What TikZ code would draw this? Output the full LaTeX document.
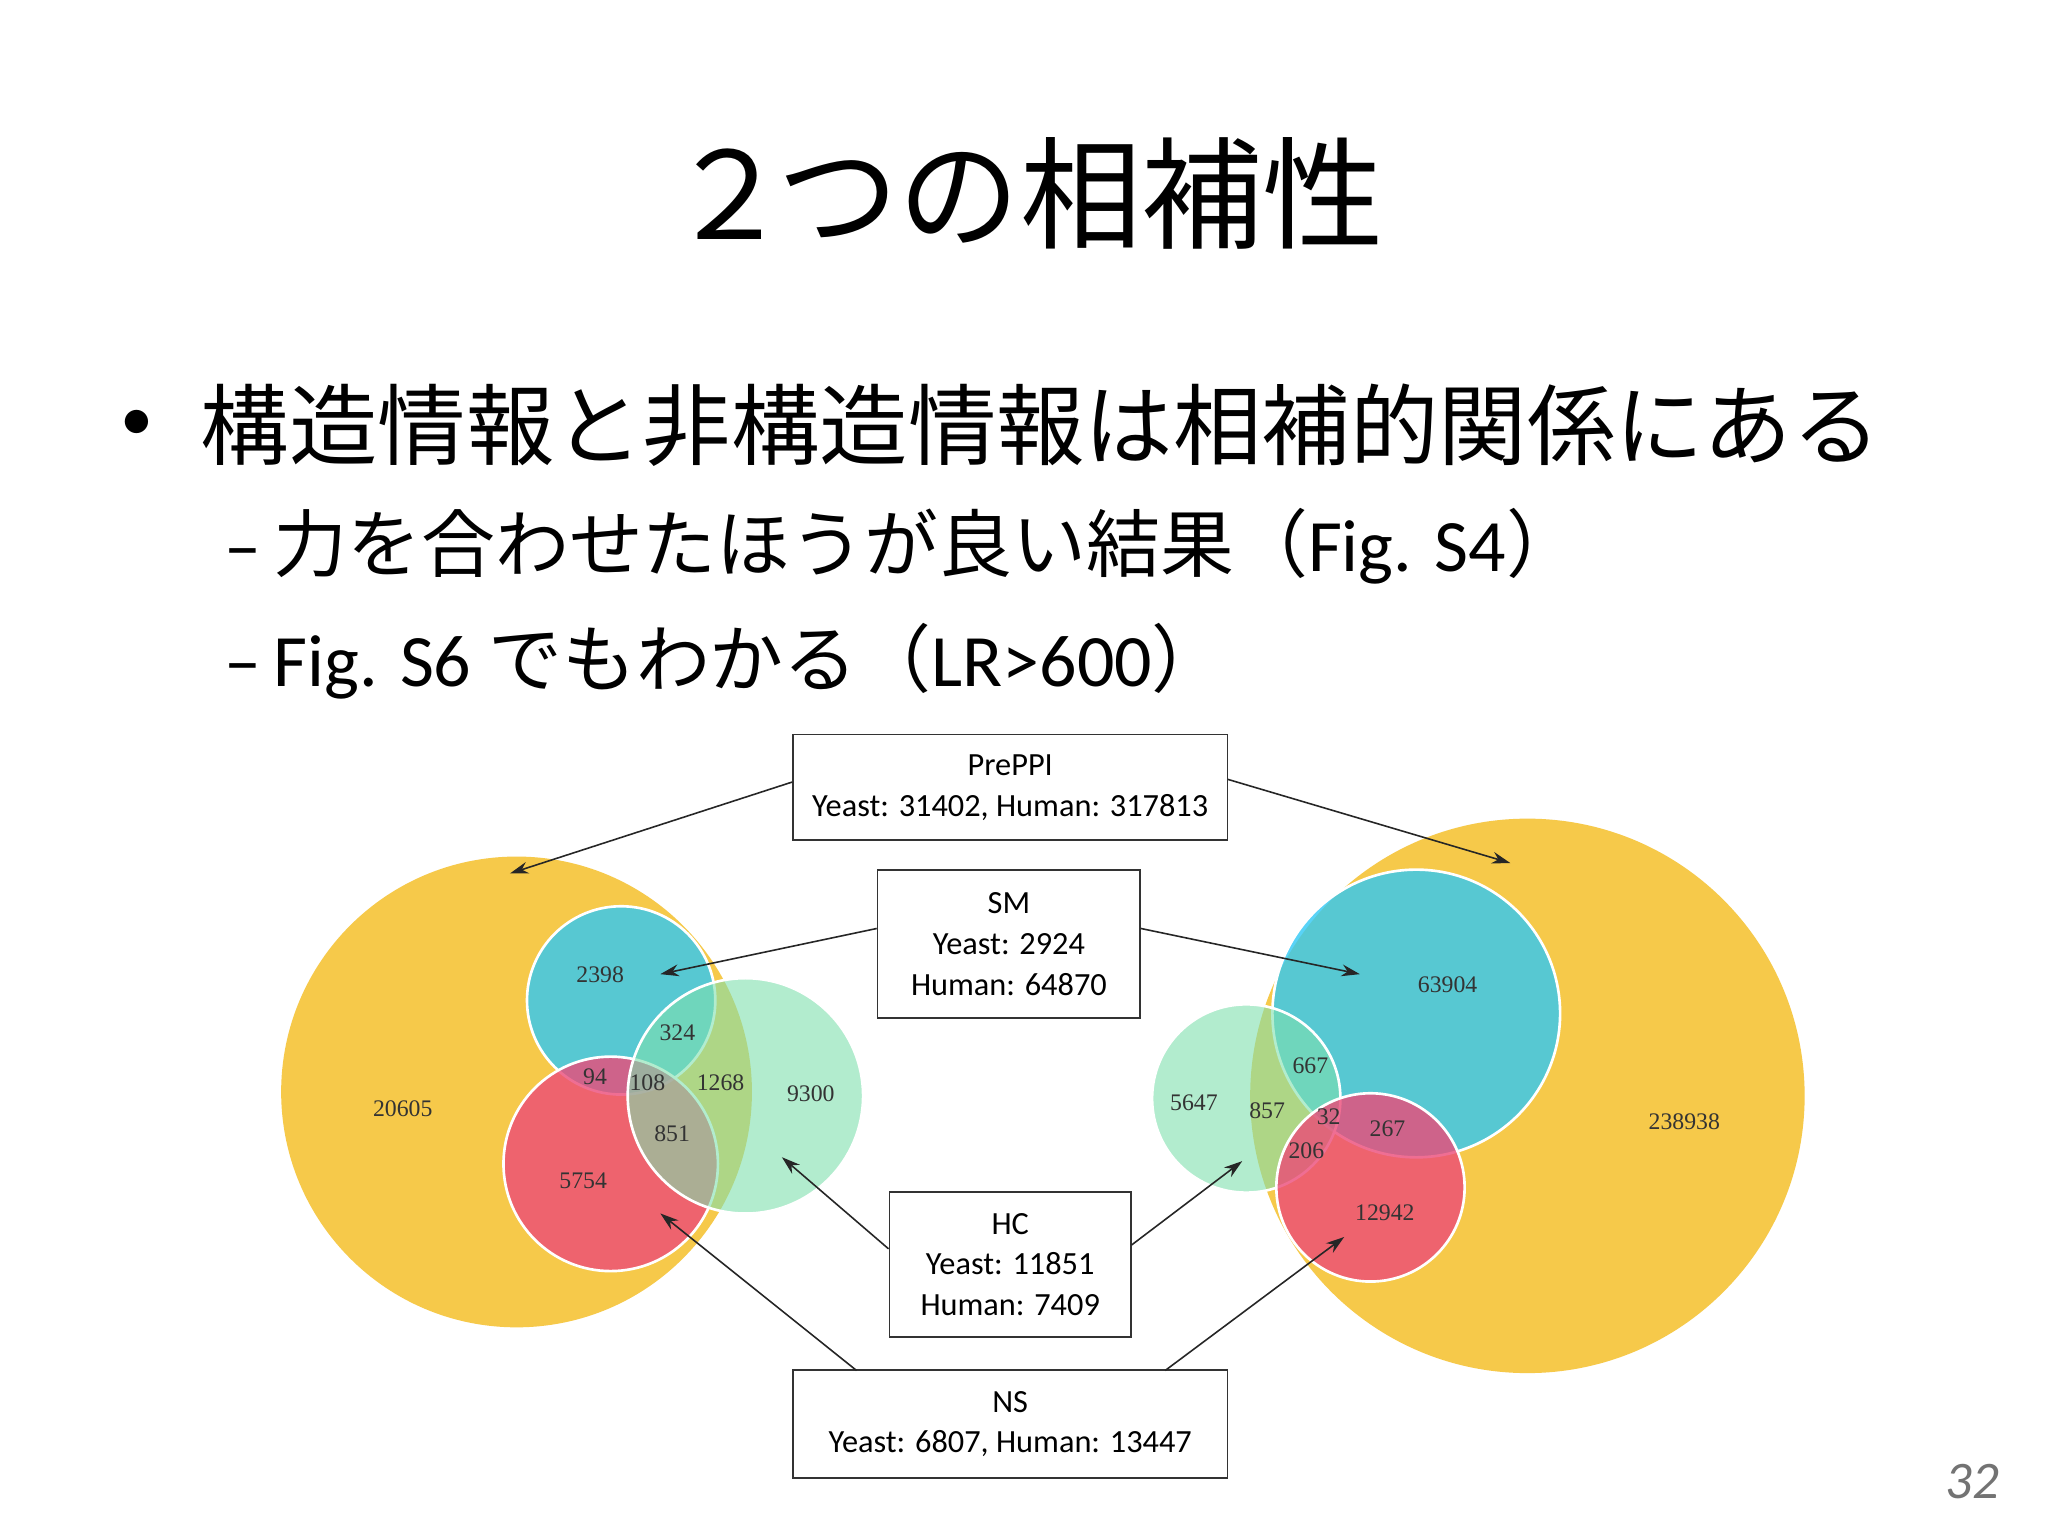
\documentclass[tikz,border=0pt]{standalone}
\usepackage{fontspec}
\setmainfont{Carlito}
\newfontfamily\jp{Noto Sans CJK JP}
\newfontfamily\numf{Liberation Serif}
\usetikzlibrary{arrows.meta}
\begin{document}
\begin{tikzpicture}[x=1pt,y=-1pt,
  box/.style={draw=black!80,line width=1.2pt,fill=white,align=center,font=\fontsize{24.5}{31}\selectfont,inner sep=0pt},
  arr/.style={-{Stealth[length=14pt,width=9pt]},line width=1.2pt,black!85},
  num/.style={font=\numf\fontsize{18}{20}\selectfont,text=black!80},
  circ/.style={draw=white,line width=2pt,fill opacity=0.8}]
\useasboundingbox (0,0) rectangle (1552,1164);
\fill[white] (0,0) rectangle (1552,1164);
\definecolor{yel}{HTML}{F6C94A}
\definecolor{blu}{HTML}{30C8F5}
\definecolor{rd}{HTML}{EC4A78}
\definecolor{grn}{HTML}{7FE0AE}
\begin{scope}[scale=0.991]
\node (title) at (785,148) {\jp\fontsize{92}{104}\selectfont ２\hspace{-10pt}つの相補性};
\node (b1) at (105,325) {\fontsize{50}{60}\selectfont •};
\node[anchor=west] (l1) at (150,325) {\jp\fontsize{67}{78}\selectfont 構造情報と非構造情報は相補的関係にある};
\node[anchor=west] (l2) at (168,418) {\fontsize{56}{66}\selectfont –\,\jp 力を合わせたほうが良い結果（\rmfamily Fig. S4\jp ）};
\node[anchor=west] (l3) at (168,506) {\fontsize{56}{66}\selectfont –\,Fig. S6 \jp でもわかる（\rmfamily LR>600\jp ）};
% left venn
\fill[yel] (395,835) circle (180);
\filldraw[circ,fill=blu] (475,765) circle (72);
\filldraw[circ,fill=rd] (467,890) circle (82);
\filldraw[circ,fill=grn,fill opacity=0.6] (570,838) circle (90);
% right venn
\fill[yel] (1168,838) circle (212);
\filldraw[circ,fill=blu] (1083,775) circle (110);
\filldraw[circ,fill=grn,fill opacity=0.6] (953,840) circle (72);
\filldraw[circ,fill=rd] (1048,908) circle (72);
% numbers
\node[num] (n1) at (459,745) {2398};
\node[num] (n2) at (308,848) {20605};
\node[num] (n3) at (518,790) {324};
\node[num] (n4) at (455,823) {94};
\node[num] (n5) at (495,828) {108};
\node[num] (n6) at (551,828) {1268};
\node[num] (n7) at (620,836) {9300};
\node[num] (n8) at (514,867) {851};
\node[num] (n9) at (446,903) {5754};
\node[num] (m1) at (1107,753) {63904};
\node[num] (m2) at (1288,858) {238938};
\node[num] (m3) at (1002,815) {667};
\node[num] (m4) at (913,843) {5647};
\node[num] (m5) at (969,849) {857};
\node[num] (m6) at (1016,854) {32};
\node[num] (m7) at (1061,863) {267};
\node[num] (m8) at (999,880) {206};
\node[num] (m9) at (1059,927) {12942};
% boxes
\node[box,minimum width=329,minimum height=80] (pre) at (772.5,602) {PrePPI\\Yeast: 31402, Human: 317813};
\node[box,minimum width=199,minimum height=112] (sm) at (771.5,722) {SM\\Yeast: 2924\\Human: 64870};
\node[box,minimum width=183,minimum height=110] (hc) at (772.5,967) {HC\\Yeast: 11851\\Human: 7409};
\node[box,minimum width=329,minimum height=82] (ns) at (772.5,1089) {NS\\Yeast: 6807, Human: 13447};
% arrow targets
\coordinate (t1) at (390,668); \coordinate (t2) at (1155,660);
\coordinate (t3) at (505,745); \coordinate (t4) at (1040,745);
\coordinate (t5) at (598,885); \coordinate (t6) at (950,888);
\coordinate (t7) at (505,928); \coordinate (t8) at (1028,946);
\draw[arr] (pre.west |- 0,598) -- (t1);
\draw[arr] (pre.east |- 0,596) -- (t2);
\draw[arr] (sm.west |- 0,710) -- (t3);
\draw[arr] (sm.east |- 0,710) -- (t4);
\draw[arr] (hc.west |- 0,955) -- (t5);
\draw[arr] (hc.east |- 0,952) -- (t6);
\draw[arr] (655,1048) -- (t7);
\draw[arr] (891,1048) -- (t8);
\node (pg) at (1508,1133) {\fontsize{40}{48}\selectfont\itshape\color{black!55}32};
\end{scope}
\end{tikzpicture}
\end{document}
